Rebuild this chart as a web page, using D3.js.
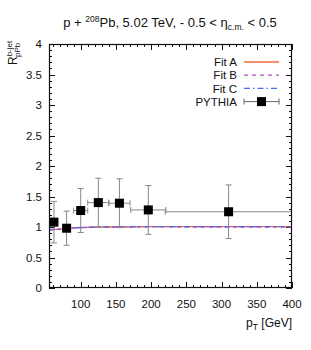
<!DOCTYPE html>
<html>
<head>
<meta charset="utf-8">
<script src="https://cdn.jsdelivr.net/npm/d3@7"></script>
<style>
  body { margin: 0; background: #fff; }
  text { font-family: "Liberation Sans", Arial, sans-serif; fill: #111; }
</style>
</head>
<body>
<svg id="chart" width="311" height="350"></svg>
<script>
// fit curves sampled on pT grid
const fitPt = [55, 70, 80, 90, 100, 110, 125, 150, 200, 250, 300, 350, 400];
const fitA = [0.955, 0.965, 0.975, 0.985, 0.99, 0.995, 1.0, 1.0, 1.005, 1.005, 1.005, 1.005, 1.005];
const fitB = [0.955, 0.963, 0.973, 0.983, 0.99, 0.995, 0.998, 1.0, 1.002, 1.0, 1.0, 1.0, 1.0];
const fitC = [0.957, 0.966, 0.977, 0.987, 0.992, 0.997, 1.0, 1.002, 1.007, 1.005, 1.005, 1.005, 1.005];

// PYTHIA points
const pyPt = [62, 80, 100, 125, 155, 196, 310];
const pyR = [1.08, 0.98, 1.27, 1.40, 1.39, 1.28, 1.25];
const pyErrY = [0.34, 0.28, 0.36, 0.40, 0.40, 0.40, 0.44];
const pyErrX = [4, 4, 10, 15, 15, 25, 90];

const xTicks = [100, 150, 200, 250, 300, 350, 400];
const yTicks = [0, 0.5, 1, 1.5, 2, 2.5, 3, 3.5, 4];

const W = 311, H = 350;
const margin = { top: 44, right: 19, bottom: 62, left: 49 };

const svg = d3.select('#chart');
const x = d3.scaleLinear().domain([55, 400]).range([margin.left, W - margin.right]);
const y = d3.scaleLinear().domain([0, 4]).range([H - margin.bottom, margin.top]);

const x0 = margin.left, x1 = W - margin.right, y0 = H - margin.bottom, y1 = margin.top;

// ticks on all four sides, pointing inward
const xMinor = d3.range(60, 401, 10).filter(v => v % 50 !== 0);
const yMinor = d3.range(0, 41, 1).map(v => v / 10).filter(v => Math.round(v * 10) % 5 !== 0);

const tickG = svg.append('g').attr('stroke', '#111').attr('stroke-width', 1);
function xt(vals, len) {
  vals.forEach(v => {
    const px = Math.round(x(v)) + 0.5;
    tickG.append('line').attr('x1', px).attr('x2', px).attr('y1', y0).attr('y2', y0 - len);
    tickG.append('line').attr('x1', px).attr('x2', px).attr('y1', y1).attr('y2', y1 + len);
  });
}
function yt(vals, len) {
  vals.forEach(v => {
    const py = Math.round(y(v)) + 0.5;
    tickG.append('line').attr('x1', x0).attr('x2', x0 + len).attr('y1', py).attr('y2', py);
    tickG.append('line').attr('x1', x1).attr('x2', x1 - len).attr('y1', py).attr('y2', py);
  });
}
xt(xMinor, 3); xt(xTicks, 6);
yt(yMinor, 3); yt(yTicks, 6);

// tick labels
svg.append('g').selectAll('text').data(xTicks).join('text')
  .attr('x', d => x(d)).attr('y', y0 + 20)
  .attr('text-anchor', 'middle').attr('font-size', 11.5)
  .text(d => d);
svg.append('g').selectAll('text').data(yTicks).join('text')
  .attr('x', x0 - 7).attr('y', d => y(d) + 4)
  .attr('text-anchor', 'end').attr('font-size', 11.5)
  .text(d => d);

// fits
const fits = [
  { name: 'Fit A', vals: fitA, color: '#f2683e', dash: null },
  { name: 'Fit B', vals: fitB, color: '#b050c0', dash: '4,4' },
  { name: 'Fit C', vals: fitC, color: '#4a6af0', dash: '6,3,1.5,3' }
];
const line = d3.line().x(d => x(d[0])).y(d => y(d[1]));
svg.append('defs').append('clipPath').attr('id', 'clip')
  .append('rect').attr('x', x0).attr('y', y1).attr('width', x1 - x0).attr('height', y0 - y1);
const plot = svg.append('g').attr('clip-path', 'url(#clip)');
fits.forEach(f => {
  plot.append('path')
    .datum(fitPt.map((p, i) => [p, f.vals[i]]))
    .attr('d', line).attr('fill', 'none')
    .attr('stroke', f.color).attr('stroke-width', 1.3)
    .attr('stroke-dasharray', f.dash);
});

// PYTHIA error bars + markers
const pts = pyPt.map((p, i) => ({ p, r: pyR[i], ey: pyErrY[i], ex: pyErrX[i] }));
const eb = plot.append('g').attr('stroke', '#888').attr('stroke-width', 1);
pts.forEach(d => {
  const cx = x(d.p), cy = y(d.r);
  eb.append('line').attr('x1', cx).attr('x2', cx).attr('y1', y(d.r + d.ey)).attr('y2', y(d.r - d.ey));
  eb.append('line').attr('x1', cx - 3).attr('x2', cx + 3).attr('y1', y(d.r + d.ey)).attr('y2', y(d.r + d.ey));
  eb.append('line').attr('x1', cx - 3).attr('x2', cx + 3).attr('y1', y(d.r - d.ey)).attr('y2', y(d.r - d.ey));
  eb.append('line').attr('x1', x(d.p - d.ex)).attr('x2', x(d.p + d.ex)).attr('y1', cy).attr('y2', cy);
  eb.append('line').attr('x1', x(d.p - d.ex)).attr('x2', x(d.p - d.ex)).attr('y1', cy - 3).attr('y2', cy + 3);
  eb.append('line').attr('x1', x(d.p + d.ex)).attr('x2', x(d.p + d.ex)).attr('y1', cy - 3).attr('y2', cy + 3);
});
plot.append('g').selectAll('rect').data(pts).join('rect')
  .attr('x', d => x(d.p) - 4.5).attr('y', d => y(d.r) - 4.5)
  .attr('width', 9).attr('height', 9).attr('fill', '#000');

// frame
svg.append('rect').attr('x', x0 + 0.5).attr('y', y1 + 0.5)
  .attr('width', x1 - x0 - 1).attr('height', y0 - y1 - 1)
  .attr('fill', 'none').attr('stroke', '#111').attr('stroke-width', 1.2);

// legend
const legRows = [62, 75.2, 88.4, 101.6];
const lx0 = 244, lx1 = 279;
fits.forEach((f, i) => {
  svg.append('text').attr('x', 237).attr('y', legRows[i] + 4.2)
    .attr('text-anchor', 'end').attr('font-size', 11.5).text(f.name);
  svg.append('line').attr('x1', lx0).attr('x2', lx1).attr('y1', legRows[i]).attr('y2', legRows[i])
    .attr('stroke', f.color).attr('stroke-width', 1.3).attr('stroke-dasharray', f.dash);
});
svg.append('text').attr('x', 237).attr('y', legRows[3] + 4.2)
  .attr('text-anchor', 'end').attr('font-size', 11.5).text('PYTHIA');
const lg = svg.append('g').attr('stroke', '#666').attr('stroke-width', 1);
lg.append('line').attr('x1', lx0).attr('x2', lx1).attr('y1', legRows[3]).attr('y2', legRows[3]);
lg.append('line').attr('x1', lx0).attr('x2', lx0).attr('y1', legRows[3] - 3).attr('y2', legRows[3] + 3);
lg.append('line').attr('x1', lx1).attr('x2', lx1).attr('y1', legRows[3] - 3).attr('y2', legRows[3] + 3);
svg.append('rect').attr('x', (lx0 + lx1) / 2 - 4.5).attr('y', legRows[3] - 4.5)
  .attr('width', 9).attr('height', 9).attr('fill', '#000');

// title
const title = svg.append('text').attr('x', 170).attr('y', 27)
  .attr('text-anchor', 'middle').attr('font-size', 13);
title.append('tspan').text('p + ');
title.append('tspan').attr('font-size', 8.5).attr('dy', -5).text('208');
title.append('tspan').attr('dy', 5).text('Pb, 5.02 TeV, - 0.5 < η');
title.append('tspan').attr('font-size', 8.5).attr('dy', 3).text('c.m.');
title.append('tspan').attr('dy', -3).text(' < 0.5');

// x label
const xl = svg.append('text').attr('x', 292).attr('y', 327)
  .attr('text-anchor', 'end').attr('font-size', 12);
xl.append('tspan').text('p');
xl.append('tspan').attr('font-size', 8.5).attr('dy', 3).text('T');
xl.append('tspan').attr('dy', -3).text(' [GeV]');

// y label
const yl = svg.append('text')
  .attr('transform', 'translate(17,65) rotate(-90)')
  .attr('text-anchor', 'start').attr('font-size', 12);
yl.append('tspan').text('R');
yl.append('tspan').attr('font-size', 8).attr('dy', -5).text('b-jet');
yl.append('tspan').attr('font-size', 8).attr('x', 8).attr('dy', 8).text('pPb');
</script>
</body>
</html>
